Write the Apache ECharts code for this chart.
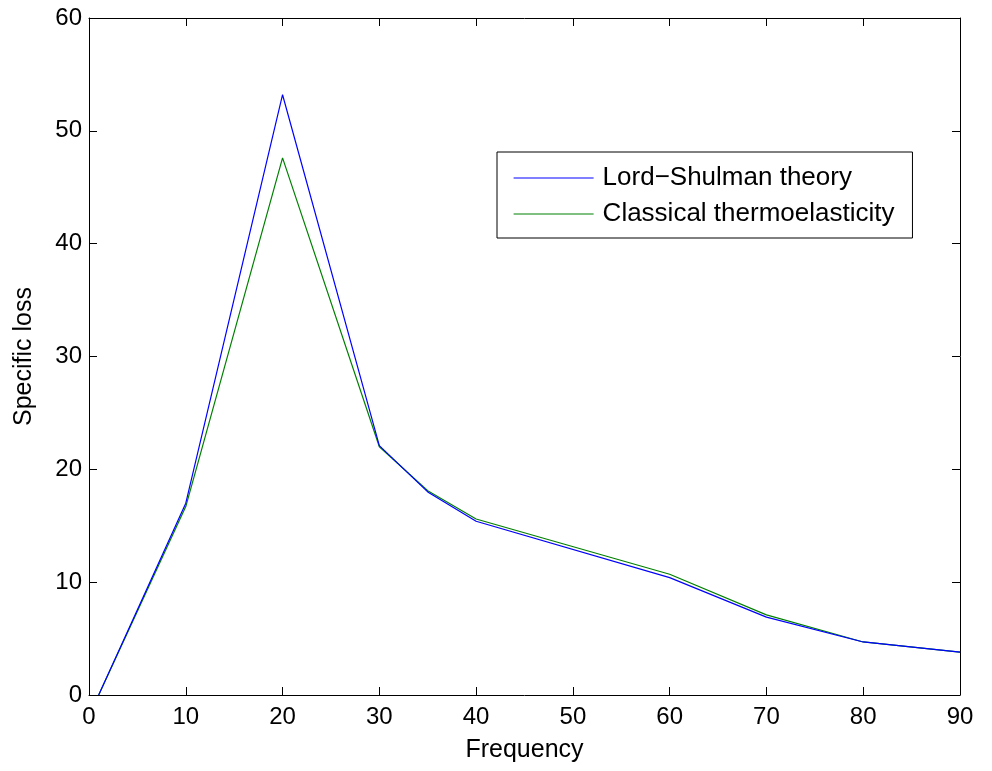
<!DOCTYPE html>
<html><head><meta charset="utf-8">
<script src="https://cdn.jsdelivr.net/npm/echarts@6/dist/echarts.min.js"></script>
<style>html,body{margin:0;padding:0;background:#fff}#c{width:992px;height:771px}</style>
</head><body><div id="c"></div>
<script>
var frequency = [1, 10, 20, 30, 35, 40, 60, 70, 80, 90];
var lordShulman = [0, 17.0, 53.2, 22.1, 18.0, 15.4, 10.4, 6.9, 4.7, 3.8];
var classical = [0, 16.7, 47.6, 22.0, 18.1, 15.6, 10.7, 7.1, 4.7, 3.8];
var seriesNames = ['Lord\u2212Shulman theory', 'Classical thermoelasticity'];
var xLabel = 'Frequency', yLabel = 'Specific loss';

function pairs(xs, ys){ return xs.map(function(x,i){ return [x, ys[i]]; }); }
var font = 'Liberation Sans, Arial, Helvetica, sans-serif';
var axisCommon = {
  axisLine:{show:true, onZero:false, lineStyle:{color:'#000', width:1}},
  axisTick:{show:true, inside:true, length:8, lineStyle:{color:'#000', width:1}},
  splitLine:{show:false}
};
function ax(extra){ return Object.assign({}, JSON.parse(JSON.stringify(axisCommon)), extra); }
var chart = echarts.init(document.getElementById('c'), null, {renderer:'canvas'});
chart.setOption({
  animation:false,
  backgroundColor:'#fff',
  grid:{left:89, right:32, top:18, bottom:76, containLabel:false},
  xAxis:[
    ax({type:'value', min:0, max:90, interval:10, position:'bottom',
      name:xLabel, nameLocation:'middle', nameGap:43,
      nameTextStyle:{fontFamily:font, fontSize:25, color:'#000'},
      axisLabel:{fontFamily:font, fontSize:24, color:'#000', margin:10}}),
    ax({type:'value', min:0, max:90, interval:10, position:'top', axisLabel:{show:false}})
  ],
  yAxis:[
    ax({type:'value', min:0, max:60, interval:10, position:'left',
      name:yLabel, nameLocation:'middle', nameGap:52, nameRotate:90,
      nameTextStyle:{fontFamily:font, fontSize:25, color:'#000'},
      axisLabel:{fontFamily:font, fontSize:24, color:'#000', margin:7}}),
    ax({type:'value', min:0, max:60, interval:10, position:'right', axisLabel:{show:false}})
  ],
  legend:{
    orient:'vertical', left:497, top:152,
    data:seriesNames,
    itemWidth:80, itemHeight:26, itemGap:10,
    padding:[13,18,11,16],
    borderColor:'#000', borderWidth:1, backgroundColor:'#fff', borderRadius:0,
    itemStyle:{opacity:0},
    lineStyle:{width:1.2},
    textStyle:{fontFamily:font, fontSize:26, color:'#000', padding:[0,0,0,4]}
  },
  series:[
    {name:seriesNames[0], type:'line', data:pairs(frequency, lordShulman), symbol:'none', showSymbol:false,
     lineStyle:{color:'#0000ff', width:1.2}, itemStyle:{color:'#0000ff'}, z:3},
    {name:seriesNames[1], type:'line', data:pairs(frequency, classical), symbol:'none', showSymbol:false,
     lineStyle:{color:'#008000', width:1.2}, itemStyle:{color:'#008000'}, z:2}
  ]
});
</script></body></html>
